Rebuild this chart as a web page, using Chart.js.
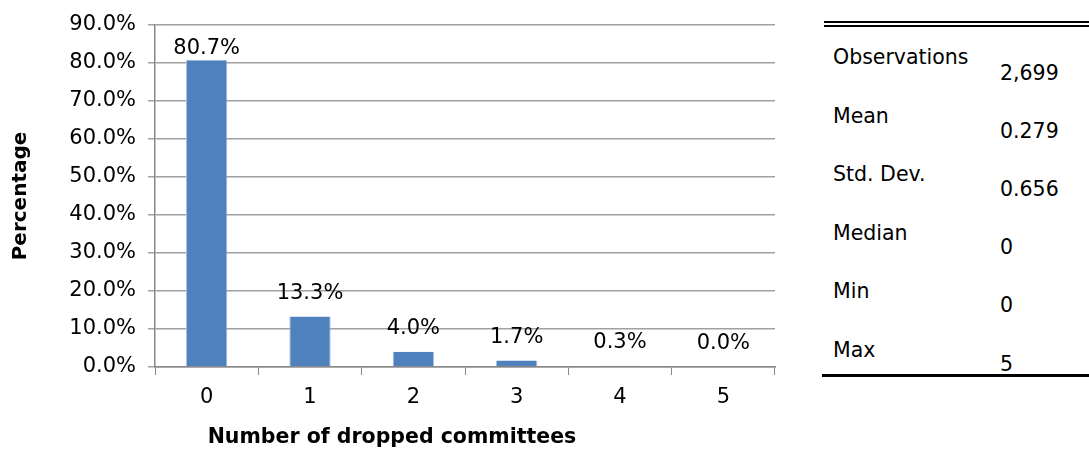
<!DOCTYPE html>
<html>
<head>
<meta charset="utf-8">
<script src="https://cdn.jsdelivr.net/npm/chart.js@4.4.1/dist/chart.umd.min.js"></script>
<style>
body{margin:0;background:#fff;}
#page{position:relative;width:1089px;height:455px;overflow:hidden;font-family:"DejaVu Sans",sans-serif;color:#000;}
#box{position:absolute;left:0;top:0;width:800px;height:455px;}
.rule{position:absolute;left:824px;right:0;background:#000;}
.lbl,.val{position:absolute;font-size:20.5px;white-space:nowrap;line-height:1;}
.lbl{left:833px;}
.val{left:1000px;}
</style>
</head>
<body>
<div id="page">
  <div id="box"><canvas id="chart"></canvas></div>
  <div class="rule" style="top:21px;height:2px"></div>
  <div class="rule" style="top:25px;height:2px"></div>
  <div class="rule" style="top:374px;height:3px;left:822px"></div>
  <div id="stats"></div>
</div>
<script>
// data
const categories = ["0", "1", "2", "3", "4", "5"];
const percentages = [80.7, 13.3, 4.0, 1.7, 0.3, 0.0];
const yMin = 0, yMax = 90, yStep = 10;
const statLabels = ["Observations", "Mean", "Std. Dev.", "Median", "Min", "Max"];
const statValues = ["2,699", "0.279", "0.656", "0", "0", "5"];

// summary table on the right
let stats = document.getElementById("stats");
statLabels.forEach((name, i) => {
    let l = document.createElement("div");
    l.className = "lbl";
    l.style.top = (47 + i * 58.5) + "px";
    l.textContent = name;
    stats.appendChild(l);
    let v = document.createElement("div");
    v.className = "val";
    v.style.top = (63 + i * 58.1) + "px";
    v.textContent = statValues[i];
    stats.appendChild(v);
});

const barLabels = {
    id: "barLabels",
    afterDatasetsDraw(chart) {
        const ctx = chart.ctx;
        const meta = chart.getDatasetMeta(0);
        ctx.save();
        ctx.font = '21px "DejaVu Sans"';
        ctx.fillStyle = "#000";
        ctx.textAlign = "center";
        ctx.textBaseline = "middle";
        meta.data.forEach((bar, i) => {
            let y = Math.max(bar.y - 23, chart.chartArea.top + 24);
            ctx.fillText(percentages[i].toFixed(1) + "%", bar.x, y);
        });
        ctx.restore();
    }
};

const xTitle = {
    id: "xTitle",
    afterDraw(chart) {
        const ctx = chart.ctx;
        ctx.save();
        ctx.font = 'bold 20.5px "DejaVu Sans"';
        ctx.fillStyle = "#000";
        ctx.textAlign = "center";
        ctx.textBaseline = "middle";
        ctx.fillText("Number of dropped committees", 392, 438);
        ctx.restore();
    }
};

new Chart(document.getElementById("chart"), {
    type: "bar",
    data: {
        labels: categories,
        datasets: [{
            data: percentages,
            backgroundColor: "#4F81BD",
            borderColor: "#a9c0de",
            borderWidth: {left: 1, right: 1, top: 0, bottom: 0},
            barPercentage: 0.4,
            categoryPercentage: 1.0
        }]
    },
    options: {
        responsive: true,
        maintainAspectRatio: false,
        animation: false,
        layout: {padding: {top: 25, right: 25, left: 0, bottom: 0}},
        plugins: {legend: {display: false}, tooltip: {enabled: false}},
        scales: {
            x: {
                grid: {offset: true, drawOnChartArea: false, drawTicks: true, tickLength: 8, color: "#888"},
                border: {color: "#888", width: 1.5},
                ticks: {color: "#000", font: {family: "DejaVu Sans", size: 21}, padding: 10},
                afterFit: s => { s.height = 88; }
            },
            y: {
                min: yMin, max: yMax,
                grid: {color: "#a0a0a0", lineWidth: 1.5, tickLength: 7},
                border: {color: "#888", width: 1.5},
                ticks: {
                    stepSize: yStep, color: "#000", padding: 12,
                    font: {family: "DejaVu Sans", size: 21},
                    callback: v => v.toFixed(1) + "%"
                },
                title: {
                    display: true, text: "Percentage", color: "#000",
                    font: {family: "DejaVu Sans", size: 20, weight: "bold"},
                    padding: {top: 9, bottom: 0}
                },
                afterFit: s => { s.width = 155; }
            }
        }
    },
    plugins: [barLabels, xTitle]
});
</script>
</body>
</html>
